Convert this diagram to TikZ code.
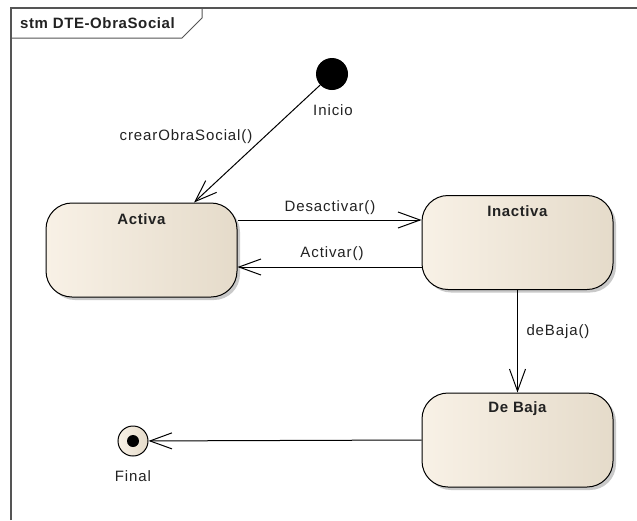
\documentclass[tikz,border=0pt]{standalone}
\usepackage{fontspec}
\setmainfont{Liberation Sans}
\newfontfamily\lblfont[LetterSpace=6]{Liberation Sans}
\newfontfamily\ttlfont[LetterSpace=4]{Liberation Sans}
\usetikzlibrary{arrows.meta,shadows,calc}
\definecolor{framec}{HTML}{555555}
\definecolor{txtc}{HTML}{222222}
\definecolor{stL}{HTML}{F8F1E6}
\definecolor{stR}{HTML}{E5DBCA}
\tikzset{
  lbl/.style={font=\lblfont\fontsize{15}{17}\selectfont, text=txtc, inner sep=0pt},
  statebox/.style={draw=black, line width=1pt, rounded corners=26pt,
     left color=stL, right color=stR, minimum width=191pt, minimum height=94pt,
     inner sep=0pt,
     drop shadow={shadow xshift=3pt, shadow yshift=-3pt, fill=black!35, opacity=0.6}},
  sttitle/.style={lbl, font=\ttlfont\fontsize{15}{17}\selectfont\bfseries},
  trans/.style={draw=black, line width=1pt, -{Straight Barb[length=22pt,width=16pt,line width=1pt]}},
}
\begin{document}
\begin{tikzpicture}[x=1pt,y=-1pt]
\useasboundingbox (0,0) rectangle (637,520);
\fill[white] (0,0) rectangle (637,520);
% frame
\draw[framec, line width=1.2pt] (11,520) -- (11,8) -- (637,8);
\draw[framec, line width=1pt] (11,38) -- (182,38) -- (202,18) -- (202,8);
\node[sttitle, anchor=west] (title) at (20,23) {stm DTE-ObraSocial};
% states
\node[statebox] (act) at (141.5,250) {};
\node[sttitle] (actt) at (141.5,219) {Activa};
\node[statebox] (ina) at (517.5,242.5) {};
\node[sttitle] (inat) at (517.5,211) {Inactiva};
\node[statebox] (deb) at (517.5,440) {};
\node[sttitle] (debt) at (517.5,409) {De Baja};
% pseudostates
\node[circle, fill=black, minimum size=32pt, inner sep=0pt] (init) at (332,74) {};
\node[lbl] (initl) at (333,110) {Inicio};
\node[circle, draw=black, line width=1pt, left color=stL, right color=stR, minimum size=30pt, inner sep=0pt] (fin) at (133,441) {};
\fill[black] (fin.center) circle (6pt);
\node[lbl] (finl) at (133,476) {Final};
% transitions
\draw[trans] (init) -- ($(act.north)+(52.5,0)$);
\node[lbl] (l1) at (186,137) {crearObraSocial()};
\draw[trans] (act.east |- 0,220) -- (ina.west |- 0,220);
\node[lbl] (l2) at (330,208) {Desactivar()};
\draw[trans] (ina.west |- 0,267) -- (act.east |- 0,267);
\node[lbl] (l3) at (332,254) {Activar()};
\draw[trans] (ina.south) -- (deb.north);
\node[lbl] (l4) at (558,332) {deBaja()};
\draw[trans] (deb.west) -- (fin);
\end{tikzpicture}
\end{document}
